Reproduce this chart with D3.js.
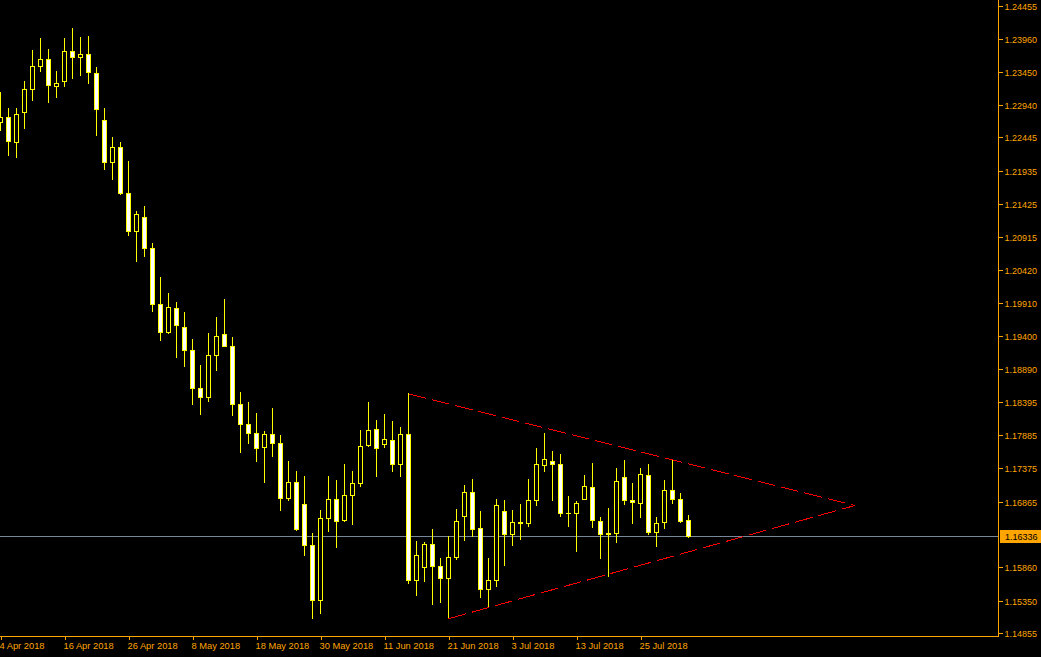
<!DOCTYPE html>
<html><head><meta charset="utf-8">
<script src="https://cdn.jsdelivr.net/npm/d3@7"></script>
<style>
html,body{margin:0;padding:0;background:#fff;}
svg{display:block;}
text{font-family:"Liberation Sans",Arial,sans-serif;font-size:9px;}
</style></head><body>
<svg id="chart" width="1041" height="657"></svg>
<script>
// ---- data (EURUSD daily) ----
const dates = [
"2018-04-04","2018-04-05","2018-04-06","2018-04-09","2018-04-10","2018-04-11","2018-04-12","2018-04-13",
"2018-04-16","2018-04-17","2018-04-18","2018-04-19","2018-04-20","2018-04-23","2018-04-24","2018-04-25",
"2018-04-26","2018-04-27","2018-04-30","2018-05-01","2018-05-02","2018-05-03","2018-05-04","2018-05-07",
"2018-05-08","2018-05-09","2018-05-10","2018-05-11","2018-05-14","2018-05-15","2018-05-16","2018-05-17",
"2018-05-18","2018-05-21","2018-05-22","2018-05-23","2018-05-24","2018-05-25","2018-05-28","2018-05-29",
"2018-05-30","2018-05-31","2018-06-01","2018-06-04","2018-06-05","2018-06-06","2018-06-07","2018-06-08",
"2018-06-11","2018-06-12","2018-06-13","2018-06-14","2018-06-15","2018-06-18","2018-06-19","2018-06-20",
"2018-06-21","2018-06-22","2018-06-25","2018-06-26","2018-06-27","2018-06-28","2018-06-29","2018-07-02",
"2018-07-03","2018-07-04","2018-07-05","2018-07-06","2018-07-09","2018-07-10","2018-07-11","2018-07-12",
"2018-07-13","2018-07-16","2018-07-17","2018-07-18","2018-07-19","2018-07-20","2018-07-23","2018-07-24",
"2018-07-25","2018-07-26","2018-07-27","2018-07-30","2018-07-31","2018-08-01","2018-08-02"];
const opens = [
1.22684,1.22761,1.22372,1.22831,1.23184,1.23542,1.23650,1.23230,1.23306,1.23772,
1.23680,1.23726,1.23435,1.22715,1.22065,1.22301,1.21601,1.21008,1.21229,1.20754,
1.19896,1.19467,1.19835,1.19543,1.19191,1.18609,1.18471,1.19114,1.19436,1.19257,
1.18364,1.18057,1.17919,1.17705,1.17904,1.17766,1.16924,1.17169,1.16832,1.16204,
1.15361,1.16617,1.16908,1.16587,1.16970,1.17147,1.17736,1.17981,1.17751,1.17812,
1.17445,1.17904,1.15667,1.15866,1.16219,1.15876,1.15698,1.16020,1.16648,1.17016,
1.16464,1.15529,1.15667,1.16724,1.16372,1.16556,1.16541,1.16893,1.17429,1.17490,
1.17445,1.16694,1.16694,1.16908,1.17092,1.16571,1.16387,1.16387,1.17245,1.16893,
1.16847,1.17276,1.16397,1.16550,1.17046,1.16908,1.16587];
const highs = [
1.23148,1.22903,1.22903,1.23302,1.23777,1.23961,1.23807,1.23455,1.23961,1.24129,
1.23976,1.24006,1.23527,1.22903,1.22444,1.22382,1.22091,1.21325,1.21387,1.20820,
1.20299,1.20069,1.19931,1.19763,1.19364,1.18951,1.19441,1.19686,1.19962,1.19380,
1.18552,1.18384,1.18230,1.17950,1.18307,1.17889,1.17495,1.17327,1.17265,1.16377,
1.16744,1.17250,1.17189,1.17449,1.17327,1.17955,1.18399,1.18108,1.18215,1.18093,
1.18016,1.18522,1.16265,1.16249,1.16449,1.16004,1.16341,1.16755,1.17123,1.17219,
1.16724,1.16004,1.16908,1.16893,1.16740,1.16832,1.17215,1.17690,1.17919,1.17644,
1.17598,1.16954,1.16878,1.17276,1.17460,1.16632,1.16770,1.17383,1.17506,1.17153,
1.17383,1.17445,1.16632,1.17199,1.17506,1.17000,1.16663];
const lows = [
1.22556,1.22173,1.22142,1.22586,1.23015,1.23460,1.22985,1.23061,1.23230,1.23352,
1.23398,1.23276,1.22479,1.21958,1.21805,1.21575,1.20947,1.20544,1.20625,1.19782,
1.19338,1.19452,1.19078,1.18940,1.18358,1.18204,1.18404,1.18879,1.19242,1.18189,
1.17622,1.17760,1.17484,1.17163,1.17561,1.16734,1.16887,1.16427,1.16044,1.15079,
1.15156,1.16412,1.16167,1.16565,1.16519,1.17101,1.17714,1.17255,1.17699,1.17331,
1.17255,1.15615,1.15431,1.15646,1.15293,1.15324,1.15079,1.15983,1.16274,1.16335,
1.15401,1.15263,1.15569,1.15891,1.16197,1.16289,1.16488,1.16810,1.17331,1.16887,
1.16642,1.16488,1.16105,1.16908,1.16473,1.15998,1.15722,1.16243,1.16826,1.16541,
1.16632,1.16372,1.16182,1.16458,1.16841,1.16550,1.16330];
const closes = [
1.22761,1.22387,1.22807,1.23190,1.23542,1.23650,1.23245,1.23282,1.23772,1.23680,
1.23726,1.23444,1.22877,1.22065,1.22301,1.21590,1.21008,1.21279,1.20748,1.19890,
1.19467,1.19850,1.19568,1.19191,1.18603,1.18471,1.19114,1.19395,1.19252,1.18358,
1.18057,1.17919,1.17690,1.17904,1.17766,1.16924,1.17169,1.16443,1.16204,1.15361,
1.16617,1.16908,1.16571,1.16970,1.17153,1.17720,1.17965,1.17690,1.17828,1.17445,
1.17904,1.15667,1.16050,1.16219,1.15882,1.15698,1.16020,1.16571,1.17016,1.16449,
1.15529,1.15667,1.16816,1.16372,1.16556,1.16541,1.16893,1.17445,1.17521,1.17445,
1.16694,1.16694,1.16847,1.17107,1.16587,1.16372,1.16372,1.17184,1.16893,1.16862,
1.17291,1.16397,1.16541,1.17046,1.16908,1.16565,1.16336];
const priceTicks = [1.24455,1.23960,1.23450,1.22940,1.22445,1.21935,1.21425,1.20915,1.20420,1.19910,
  1.19400,1.18890,1.18395,1.17885,1.17375,1.16865,1.15860,1.15350,1.14855];
const dateTicks = ["2018-04-04","2018-04-16","2018-04-26","2018-05-08","2018-05-18","2018-05-30",
  "2018-06-11","2018-06-21","2018-07-03","2018-07-13","2018-07-25"];
const currentPrice = 1.16336;
const priceDomain = [1.14814, 1.24558];
const trendUpper = [{bar:51, price:1.18522},{bar:106.8, price:1.16813}];
const trendLower = [{bar:56, price:1.15079},{bar:106.8, price:1.16813}];

// ---- layout / style ----
const W = 1041, H = 657, plotR = 998, plotB = 636, barStep = 8;
const AX = "#FFA500", CAN = "#FFFF00";
const svg = d3.select("#chart").attr("shape-rendering","crispEdges");
svg.append("rect").attr("width",W).attr("height",H).attr("fill","#000");

const parse = d3.timeParse("%Y-%m-%d");
const fmt = d3.timeFormat("%-d %b %Y");
const x = d3.scaleLinear().domain([0, dates.length-1]).range([0.5, barStep*(dates.length-1)+0.5]);
const y = d3.scaleLinear().domain(priceDomain).range([plotB, 0]);
const py = v => Math.floor(y(v));

svg.append("clipPath").attr("id","plot").append("rect").attr("width",plotR).attr("height",plotB);
const g = svg.append("g").attr("clip-path","url(#plot)");

// current price line
g.append("line").attr("x1",0).attr("x2",plotR)
  .attr("y1",py(currentPrice)+0.5).attr("y2",py(currentPrice)+0.5)
  .attr("stroke","#778899").attr("stroke-width",1);

// candles
const bars = dates.map((d,i)=>({i, o:opens[i], h:highs[i], l:lows[i], c:closes[i]}));
const cg = g.append("g");
bars.forEach(b=>{
  const cx = x(b.i);
  cg.append("line").attr("x1",cx).attr("x2",cx)
    .attr("y1",py(b.h)).attr("y2",py(b.l)+1)
    .attr("stroke",CAN).attr("stroke-width",1);
  const top = py(Math.max(b.o,b.c)), bot = py(Math.min(b.o,b.c));
  if (bot - top < 1) {
    cg.append("line").attr("x1",cx-2.5).attr("x2",cx+2.5)
      .attr("y1",top+0.5).attr("y2",top+0.5).attr("stroke",CAN).attr("stroke-width",1);
  } else {
    cg.append("rect").attr("x",cx-2).attr("width",4)
      .attr("y",top+0.5).attr("height",bot-top)
      .attr("fill", b.c < b.o ? "#FFFFFF" : "#000000")
      .attr("stroke",CAN).attr("stroke-width",1);
  }
});

// trend lines (triangle)
[trendUpper, trendLower].forEach(t=>{
  g.append("line")
    .attr("x1",x(t[0].bar)).attr("y1",y(t[0].price))
    .attr("x2",x(t[1].bar)).attr("y2",y(t[1].price))
    .attr("stroke","#FF0000").attr("stroke-width",1).attr("stroke-dasharray","18,6");
});

// right price axis
const yAxis = d3.axisRight(y).tickValues(priceTicks).tickSize(4).tickPadding(3)
  .tickFormat(d3.format(".5f"));
const ya = svg.append("g").attr("transform",`translate(${plotR+0.5},0)`).call(yAxis);
ya.select(".domain").remove();
ya.selectAll(".tick").attr("transform", d=>`translate(0,${py(d)+0.5})`);
ya.selectAll(".tick line").attr("stroke",AX);
ya.selectAll(".tick text").attr("fill",AX).attr("x",6).attr("dy","0.34em")
  .style("font-size","9px").style("font-family","'Liberation Sans',Arial,sans-serif");

// bottom date axis
const tickIdx = dateTicks.map(d=>dates.indexOf(d));
const xAxis = d3.axisBottom(x).tickValues(tickIdx).tickSize(3).tickPadding(3)
  .tickFormat(i=>fmt(parse(dates[i])));
const xa = svg.append("g").attr("transform",`translate(0,${plotB+0.5})`).call(xAxis);
xa.select(".domain").remove();
xa.selectAll(".tick line").attr("stroke",AX);
xa.selectAll(".tick text").attr("fill",AX).attr("text-anchor","start").attr("x",-1.5)
  .attr("y",12.5).attr("dy",0)
  .style("font-size","9.3px").style("font-family","'Liberation Sans',Arial,sans-serif");

// axis frame lines
svg.append("line").attr("x1",0).attr("x2",plotR+1).attr("y1",plotB+0.5).attr("y2",plotB+0.5).attr("stroke",AX);
svg.append("line").attr("x1",plotR+0.5).attr("x2",plotR+0.5).attr("y1",0).attr("y2",plotB+1).attr("stroke",AX);

// current price label
const cpy = py(currentPrice);
svg.append("rect").attr("x",1000).attr("y",cpy-6).attr("width",W-1000).attr("height",13).attr("fill",AX);
svg.append("text").attr("x",1005).attr("y",cpy+0.5).attr("dy","0.34em").attr("fill","#000")
  .style("font-size","9px").text(currentPrice.toFixed(5));
</script>
</body></html>
